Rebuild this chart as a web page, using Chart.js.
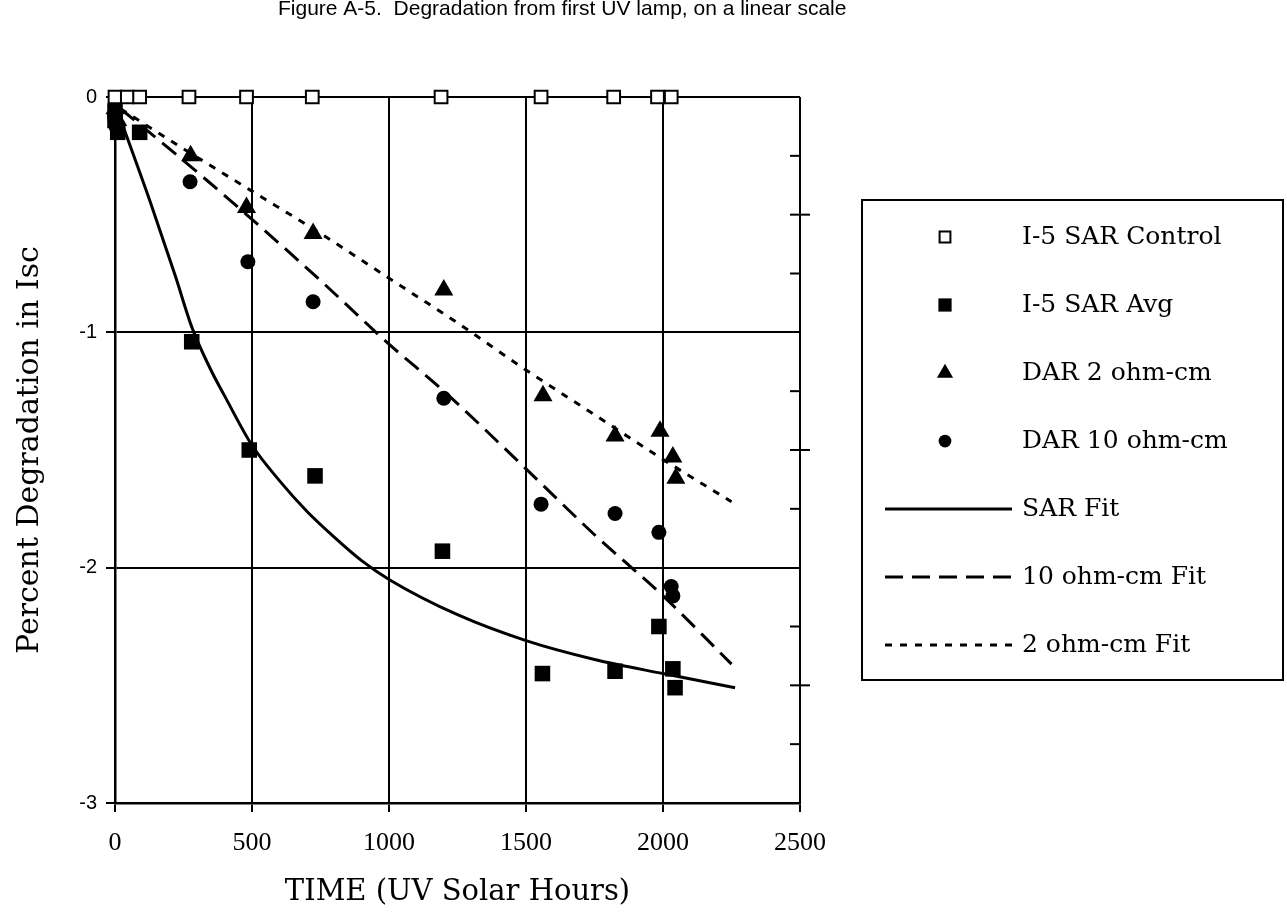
<!DOCTYPE html>
<html>
<head>
<meta charset="utf-8">
<script src="https://cdn.jsdelivr.net/npm/chart.js"></script>
<style>
    html, body { margin: 0; padding: 0; background: #fff; }
    #wrap { width: 1287px; height: 920px; position: relative; }
</style>
</head>
<body>
<div id="wrap"><canvas id="chart" width="1287" height="920"></canvas></div>
<script>
var figureTitle = 'Figure A-5.  Degradation from first UV lamp, on a linear scale';
var xTitle = 'TIME (UV Solar Hours)';
var yTitle = 'Percent Degradation in Isc';

var xTicks = [0, 500, 1000, 1500, 2000, 2500];
var yTicks = [0, -1, -2, -3];

// measured series (hours, percent)
var controlHours = [0, 45, 90, 270, 480, 720, 1190, 1555, 1820, 1980, 2030];
var controlDeg = [0, 0, 0, 0, 0, 0, 0, 0, 0, 0, 0];

var sarHours = [0, 0, 10, 90, 280, 490, 730, 1195, 1560, 1825, 1985, 2036, 2044];
var sarDeg = [-0.06, -0.10, -0.15, -0.15, -1.04, -1.50, -1.61, -1.93, -2.45, -2.44, -2.25, -2.43, -2.51];

var dar2Hours = [0, 10, 36, 276, 480, 723, 1200, 1562, 1825, 1989, 2036, 2047];
var dar2Deg = [-0.05, -0.10, 0.23, -0.25, -0.47, -0.58, -0.82, -1.27, -1.44, -1.42, -1.53, -1.62];

var dar10Hours = [0, 5, 29, 84, 274, 485, 723, 1200, 1555, 1825, 1985, 2030, 2036];
var dar10Deg = [-0.10, -0.13, 0.05, 0.09, -0.36, -0.70, -0.87, -1.28, -1.73, -1.77, -1.85, -2.08, -2.12];

// fitted curves
var sarFitHours = [0, 50, 130, 220, 281, 350, 400, 500, 600, 700, 800, 900, 1000, 1250, 1500, 1750, 2000, 2263];
var sarFitDeg = [-0.03, -0.19, -0.45, -0.76, -0.98, -1.16, -1.27, -1.48, -1.63, -1.76, -1.87, -1.97, -2.05, -2.20, -2.31, -2.39, -2.45, -2.51];

var ohm10FitHours = [20, 250, 500, 750, 1000, 1200, 1500, 1750, 2000, 2250];
var ohm10FitDeg = [-0.05, -0.27, -0.52, -0.78, -1.05, -1.25, -1.58, -1.86, -2.12, -2.41];

var ohm2FitHours = [20, 250, 500, 750, 1000, 1250, 1500, 1750, 2000, 2250];
var ohm2FitDeg = [-0.05, -0.22, -0.40, -0.58, -0.77, -0.96, -1.16, -1.35, -1.54, -1.72];

var serif = "'DejaVu Serif', serif";

/**
 * Zips two arrays into {x, y} points
 */
function toPoints(xs, ys) {
    var pts = [];
    for (var i = 0; i < xs.length; i++)
        pts.push({ x: xs[i], y: ys[i] });
    return pts;
}

/**
 * Draws a marker the same way chart.js does for rect / triangle / circle
 */
function drawMarker(ctx, style, x, y, r, fill, stroke, bw) {
    ctx.beginPath();
    if (style === 'rect') {
        var s = Math.SQRT1_2 * r;
        ctx.rect(x - s, y - s, 2 * s, 2 * s);
    } else if (style === 'triangle') {
        ctx.moveTo(x, y - r);
        ctx.lineTo(x + 0.866 * r, y + 0.5 * r);
        ctx.lineTo(x - 0.866 * r, y + 0.5 * r);
        ctx.closePath();
    } else {
        ctx.arc(x, y, r, 0, Math.PI * 2);
    }
    ctx.fillStyle = fill;
    ctx.fill();
    if (bw) {
        ctx.lineWidth = bw;
        ctx.strokeStyle = stroke;
        ctx.stroke();
    }
}

// Title, right axis ticks and the boxed legend
const decorations = {
    id: 'decorations',
    afterDraw: (chart) => {
        var { ctx, chartArea } = chart;
        var yScale = chart.scales.y;
        ctx.save();

        // title (sits at the very top edge)
        ctx.fillStyle = '#000';
        ctx.font = "21px 'Liberation Sans', Arial, sans-serif";
        ctx.textBaseline = 'middle';
        ctx.textAlign = 'left';
        ctx.fillText(figureTitle, 278, 9);

        // small ticks on the right axis every 0.25
        ctx.strokeStyle = '#000';
        ctx.lineWidth = 2;
        for (var k = 1; k < 12; k++) {
            if (k % 4 === 0) continue;
            var py = yScale.getPixelForValue(-k / 4);
            ctx.beginPath();
            ctx.moveTo(chartArea.right - 10, py);
            ctx.lineTo(k % 2 === 0 ? chartArea.right + 10 : chartArea.right, py);
            ctx.stroke();
        }

        // legend box
        var boxL = 862, boxT = 200, boxR = 1283, boxB = 680;
        ctx.lineWidth = 2;
        ctx.strokeRect(boxL, boxT, boxR - boxL, boxB - boxT);

        ctx.font = '25px ' + serif;
        ctx.textAlign = 'left';
        var rowY = 237;
        chart.data.datasets.forEach(ds => {
            if (ds.showLine) {
                ctx.beginPath();
                ctx.setLineDash(ds.borderDash || []);
                ctx.lineWidth = ds.borderWidth;
                ctx.strokeStyle = '#000';
                ctx.moveTo(885, rowY);
                ctx.lineTo(1012, rowY);
                ctx.stroke();
                ctx.setLineDash([]);
            } else {
                drawMarker(ctx, ds.pointStyle, 945, rowY, ds.pointRadius * 0.85,
                    ds.pointBackgroundColor, ds.pointBorderColor, ds.pointBorderWidth);
            }
            ctx.fillStyle = '#000';
            ctx.fillText(ds.label, 1022, rowY);
            rowY += 68;
        });
        ctx.restore();
    }
};

function markerSet(label, hours, deg, style, r, fill) {
    return {
        label: label,
        data: toPoints(hours, deg),
        showLine: false,
        pointStyle: style,
        pointRadius: r,
        pointHoverRadius: r,
        pointBackgroundColor: fill,
        pointBorderColor: '#000',
        pointBorderWidth: fill === '#fff' ? 2 : 0,
        clip: false,
        order: 1
    };
}

function fitSet(label, hours, deg, dash) {
    return {
        label: label,
        data: toPoints(hours, deg),
        showLine: true,
        borderColor: '#000',
        borderWidth: 3,
        borderDash: dash,
        pointRadius: 0,
        cubicInterpolationMode: 'monotone',
        clip: false,
        order: 2
    };
}

var ctx = document.getElementById('chart');
var myChart = new Chart(ctx, {
    type: 'scatter',
    data: {
        datasets: [
            markerSet('I-5 SAR Control', controlHours, controlDeg, 'rect', 9, '#fff'),
            markerSet('I-5 SAR Avg', sarHours, sarDeg, 'rect', 11, '#000'),
            markerSet('DAR 2 ohm-cm', dar2Hours, dar2Deg, 'triangle', 11, '#000'),
            markerSet('DAR 10 ohm-cm', dar10Hours, dar10Deg, 'circle', 7.5, '#000'),
            fitSet('SAR Fit', sarFitHours, sarFitDeg, []),
            fitSet('10 ohm-cm Fit', ohm10FitHours, ohm10FitDeg, [18, 9]),
            fitSet('2 ohm-cm Fit', ohm2FitHours, ohm2FitDeg, [7, 8])
        ]
    },
    options: {
        responsive: false,
        animation: false,
        layout: { padding: { top: 97, right: 487, left: 12, bottom: 10 } },
        plugins: {
            legend: { display: false },
            tooltip: { enabled: false }
        },
        scales: {
            x: {
                type: 'linear',
                min: xTicks[0],
                max: xTicks[xTicks.length - 1],
                afterFit: scale => { scale.height = 107; },
                afterBuildTicks: scale => { scale.ticks = xTicks.map(v => ({ value: v })); },
                grid: { color: '#000', lineWidth: 2, tickLength: 9 },
                border: { color: '#000', width: 2.5 },
                ticks: {
                    color: '#000',
                    padding: 16,
                    callback: v => String(v),
                    font: { family: "'Liberation Serif', serif", size: 26 }
                },
                title: {
                    display: true,
                    text: xTitle,
                    color: '#000',
                    padding: 0,
                    font: { family: serif, size: 29 }
                }
            },
            y: {
                type: 'linear',
                min: yTicks[yTicks.length - 1],
                max: yTicks[0],
                afterFit: scale => { scale.width = 103; },
                afterBuildTicks: scale => { scale.ticks = yTicks.map(v => ({ value: v })); },
                grid: { color: '#000', lineWidth: 2, tickLength: 9 },
                border: { color: '#000', width: 2.5 },
                ticks: {
                    color: '#000',
                    padding: 9,
                    callback: v => String(v),
                    font: { family: "'Liberation Sans', Arial, sans-serif", size: 20 }
                },
                title: {
                    display: true,
                    text: yTitle,
                    color: '#000',
                    padding: 0,
                    font: { family: serif, size: 30 }
                }
            }
        }
    },
    plugins: [decorations]
});
</script>
</body>
</html>
